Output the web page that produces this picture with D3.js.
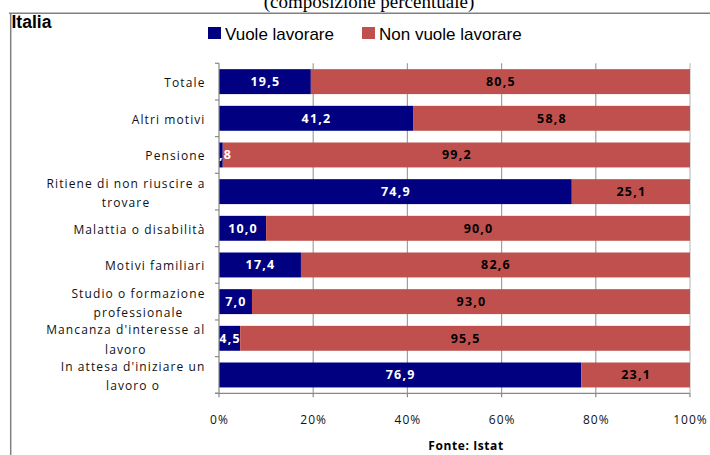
<!DOCTYPE html>
<html><head><meta charset="utf-8">
<script src="https://cdn.jsdelivr.net/npm/d3@7"></script>
<style>body{margin:0;background:#fff}svg{display:block}</style>
</head><body>
<svg id="c" width="710" height="455"></svg>
<script>
const categories = ["Totale","Altri motivi","Pensione","Ritiene di non riuscire a\ntrovare","Malattia o disabilità","Motivi familiari","Studio o formazione\nprofessionale","Mancanza d'interesse al\nlavoro","In attesa d'iniziare un\nlavoro o"];
const vuoleLavorare = [19.5,41.2,0.8,74.9,10.0,17.4,7.0,4.5,76.9];
const nonVuoleLavorare = [80.5,58.8,99.2,25.1,90.0,82.6,93.0,95.5,23.1];
const seriesNames = ["Vuole lavorare","Non vuole lavorare"];
const xTicks = [0,20,40,60,80,100];
const titleText = "(composizione percentuale)";
const regionText = "Italia";
const sourceText = "Fonte: Istat";

const colors = ["#000080","#C0504D"];
const labelColors = ["#ffffff","#000000"];
const svg = d3.select("#c");
const m = {left:219, right:690, top:63.3, bottom:393.3};
const x = d3.scaleLinear().domain([0,100]).range([m.left,m.right]);
const y = d3.scaleBand().domain(categories).range([m.top,m.bottom]).paddingInner(0.32).paddingOuter(0.16);
const fmt = d3.formatLocale({decimal:",",thousands:".",grouping:[3],currency:["","€"]}).format(".1f");

// frame
svg.append("line").attr("x1",9).attr("x2",710).attr("y1",13.3).attr("y2",13.3).attr("stroke","#808080").attr("stroke-width",1.5);
svg.append("line").attr("x1",10.7).attr("x2",10.7).attr("y1",13).attr("y2",455).attr("stroke","#808080").attr("stroke-width",1.5);
svg.append("text").attr("x",369).attr("y",7.5).attr("text-anchor","middle").attr("font-family","Liberation Serif").attr("font-size",19).text(titleText);
svg.append("text").attr("x",11.5).attr("y",28).attr("font-family","Liberation Sans").attr("font-weight","bold").attr("font-size",17.5).text(regionText);

// legend
const legX = [208,362];
seriesNames.forEach((n,i)=>{
  svg.append("rect").attr("x",legX[i]).attr("y",27).attr("width",13).attr("height",12).attr("fill",colors[i]);
  svg.append("text").attr("x",legX[i]+17).attr("y",39.5).attr("font-family","Liberation Sans").attr("font-size",17).text(n);
});

// gridlines
svg.append("g").selectAll("line").data(xTicks.slice(1)).join("line")
  .attr("x1",d=>x(d)).attr("x2",d=>x(d)).attr("y1",m.top).attr("y2",m.bottom)
  .attr("stroke",d=>d===100?"#c0c0c0":"#a0a0a0").attr("stroke-width",1.2);

// bars
const stack = categories.map((c,i)=>({c, v:[vuoleLavorare[i],nonVuoleLavorare[i]]}));
svg.append("clipPath").attr("id","pa").append("rect").attr("x",m.left).attr("y",m.top).attr("width",m.right-m.left).attr("height",m.bottom-m.top);
stack.forEach(d=>{
  let acc=0;
  d.v.forEach((v,k)=>{
    svg.append("rect").attr("x",x(acc)).attr("y",y(d.c)).attr("width",x(acc+v)-x(acc)).attr("height",y.bandwidth()).attr("fill",colors[k]);
    acc+=v;
  });
});
const lg = svg.append("g").attr("clip-path","url(#pa)");
stack.forEach(d=>{
  let acc=0;
  d.v.forEach((v,k)=>{
    lg.append("text").attr("x",x(acc+v/2)+0.5).attr("y",y(d.c)+y.bandwidth()/2+4.5)
      .attr("text-anchor","middle").attr("font-family","Open Sans").attr("font-weight","bold").attr("font-size",12.5).attr("letter-spacing",1.2)
      .attr("fill",labelColors[k]).text(fmt(v));
    acc+=v;
  });
});

// y axis
svg.append("line").attr("x1",m.left).attr("x2",m.left).attr("y1",m.top).attr("y2",m.bottom).attr("stroke","#888").attr("stroke-width",1.2);
const bounds = d3.range(categories.length+1).map(i=>m.top+i*y.step());
svg.append("g").selectAll("line").data(bounds).join("line").attr("x1",215).attr("x2",m.left).attr("y1",d=>d).attr("y2",d=>d).attr("stroke","#888").attr("stroke-width",1.2);
// x axis
svg.append("line").attr("x1",215).attr("x2",m.right).attr("y1",m.bottom).attr("y2",m.bottom).attr("stroke","#888").attr("stroke-width",1.2);
svg.append("g").selectAll("line").data(xTicks).join("line").attr("x1",d=>x(d)).attr("x2",d=>x(d)).attr("y1",m.bottom).attr("y2",m.bottom+4).attr("stroke","#888").attr("stroke-width",1.2);
svg.append("g").selectAll("text").data(xTicks).join("text").attr("x",d=>x(d)+0.5).attr("y",423.5).attr("text-anchor","middle")
  .attr("font-family","Open Sans").attr("font-size",12).attr("letter-spacing",1).attr("fill","#111").text(d=>d+"%");

// category labels
const cg = svg.append("g");
categories.forEach(c=>{
  const lines = c.split("\n");
  const cy = y(c)+y.bandwidth()/2;
  const tmp = lines.map((l,i)=>cg.append("text").attr("font-family","Open Sans").attr("font-size",12).attr("letter-spacing",1.1).attr("fill","#111").text(l));
  const widths = tmp.map(t=>t.node().getComputedTextLength());
  const maxW = d3.max(widths);
  const right = 205.5;
  tmp.forEach((t,i)=>{
    const base = cy + 5.25 + (i-(lines.length-1)/2)*19.5 + (lines.length>1?0.5:0);
    if(lines.length===1) t.attr("x",right).attr("text-anchor","end").attr("y",base);
    else t.attr("x",right-maxW/2).attr("text-anchor","middle").attr("y",base);
  });
});

svg.append("text").attr("x",466).attr("y",450).attr("text-anchor","middle").attr("font-family","Open Sans").attr("font-weight","bold").attr("font-size",12).attr("letter-spacing",0.6).text(sourceText);
</script>
</body></html>
